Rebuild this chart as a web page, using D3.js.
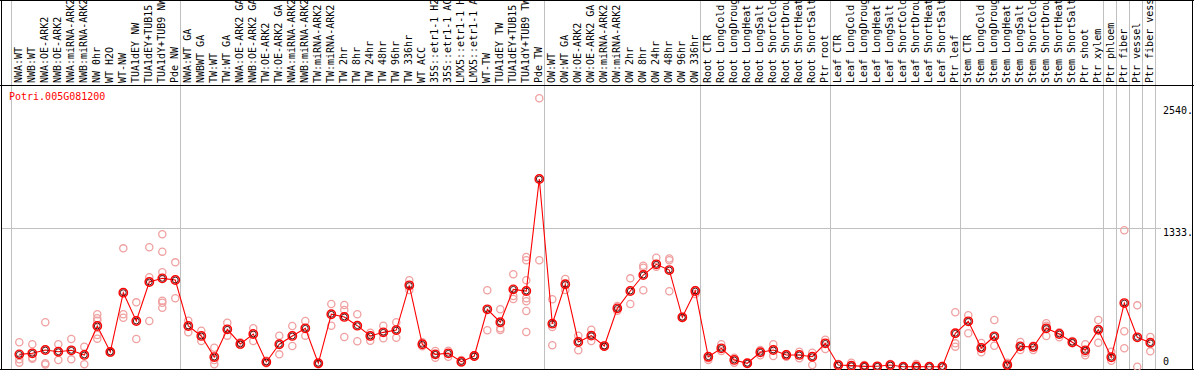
<!DOCTYPE html>
<html><head><meta charset="utf-8">
<script src="https://cdn.jsdelivr.net/npm/d3@7"></script>
<style>
body{margin:0;background:#fff}
svg text{font-family:"DejaVu Sans Mono",monospace;font-size:10px}
</style>
</head><body><svg id="chart" width="1194" height="370"></svg>
<script>
const geneName = "Potri.005G081200";
const categories = [
 "NWA:WT","NWB:WT","NWA:OE-ARK2","NWB:OE-ARK2","NWA:miRNA-ARK2","NWB:miRNA-ARK2","NW 0hr","WT H2O","WT-NW","TUA1dEY NW","TUA1dEY+TUB15 NW","TUA1dY+TUB9 NW","Pde NW",
 "NWA:WT GA","NWBWT GA","TW:WT","TW:WT GA","NWA:OE-ARK2 GA","NWB:OE-ARK2 GA","TW:OE-ARK2","TW:OE-ARK2 GA","NWA:miRNA-ARK2 GA","NWB:miRNA-ARK2 GA","TW:miRNA-ARK2","TW:miRNA-ARK2 GA","TW 2hr","TW 8hr","TW 24hr","TW 48hr","TW 96hr","TW 336hr","WT ACC","35S::etr1-1 H2O","35S::etr1-1 ACC","LMX5::etr1-1 H2O","LMX5::etr1-1 ACC","WT-TW","TUA1dEY TW","TUA1dEY+TUB15 TW","TUA1dY+TUB9 TW","Pde TW",
 "OW:WT","OW:WT GA","OW:OE-ARK2","OW:OE-ARK2 GA","OW:miRNA-ARK2","OW:miRNA-ARK2 GA","OW 2hr","OW 8hr","OW 24hr","OW 48hr","OW 96hr","OW 336hr",
 "Root CTR","Root LongCold","Root LongDrought","Root LongHeat","Root LongSalt","Root ShortCold","Root ShortDrought","Root ShortHeat","Root ShortSalt","Ptr root",
 "Leaf CTR","Leaf LongCold","Leaf LongDrought","Leaf LongHeat","Leaf LongSalt","Leaf ShortCold","Leaf ShortDrought","Leaf ShortHeat","Leaf ShortSalt","Ptr leaf",
 "Stem CTR","Stem LongCold","Stem LongDrought","Stem LongHeat","Stem LongSalt","Stem ShortCold","Stem ShortDrought","Stem ShortHeat","Stem ShortSalt","Ptr shoot","Ptr xylem",
 "Ptr phloem","Ptr fiber","Ptr vessel","Ptr fiber vessel"
];
const groupSizes = [13,28,12,10,10,11,1,1,1,1];
const meanValues = [
 119,129,161,144,158,113,392,142,713,440,816,851,835,
 392,296,93,360,219,315,45,216,296,370,33,505,479,395,296,331,353,784,216,119,129,48,103,553,428,745,729,1808,
 414,794,238,299,199,562,729,883,986,931,476,729,
 96,177,65,33,139,161,113,113,96,225,
 16,10,3,4,16,0,2,0,1,322,
 437,180,293,16,196,190,370,315,235,158,356,
 91,613,283,231
];
const replicateValues = [
 [235,71,39],[216,87,77],[428,33,22],[216,65],[267,71],[193,23],[505,466,443,305,270],[142,135],[1140,505,472],[620,267],[1150,861,440],[1275,1108,909,636,616,568],[1005,659],
 [443,331],[347,248],[183,65,23],[424,299],[235,209],[370,248],[57,33],[299,119],[392,199],[440,299],[33,23],[604,395],[594,546,286],[505,245],[327,250],[395,274],[428,279],[832,739],[235,197],[151,119,87],[154,96],[65,39],[110,96],[736,351],[553,370,353],[890,681,652],[1057,1025,832,659,630,536,334],[2585,1025],
 [649,382,206],[845,739],[299,158],[356,248],[205,193],[585,539],[851,604],[973,953,736],[1050,963],[1042,1025,726],[482,470],[739,700],
 [81,65],[216,151],[87,39],[33,33],[161,110],[216,103],[122,96],[144,81],[135,16],[260,170],
 [26,7],[39,0],[16,0],[7,0],[26,7],[0,0],[26,0],[0,0],[7,0],[524,225,193],
 [495,322],[228,139],[450,202],[39,16],[238,161],[202,161],[418,395,296],[331,283],[248,225],[216,135,110],[450,231],
 [144,58],[1314,341,177],[591,0],[286,148]
];
const yTickValues = [0, 1333, 2540];
const yTickLabels = ["0", "1333.", "2540."];

const svg = d3.select("#chart");
const W = 1194, H = 370;
const plotTop = 85.5, plotBottom = 369.5;

const x = d3.scaleLinear().domain([0, categories.length - 1]).range([19.3, 1150.3]);
const step = x(1) - x(0);
const y = d3.scaleLinear().domain([0, 2666]).range([366.7, 89.9]);

// separators after each group (and one before the first)
const sepIdx = [-1];
let acc = -1;
groupSizes.forEach(s => { acc += s; sepIdx.push(acc); });

const crisp = v => Math.round(v) + 0.5;

svg.append("g").selectAll("line").data(sepIdx).join("line")
  .attr("x1", d => crisp(x(d) + step * 0.38)).attr("x2", d => crisp(x(d) + step * 0.38))
  .attr("y1", 0).attr("y2", plotBottom)
  .attr("stroke", "#c0c0c0").attr("stroke-width", 1);

// horizontal grid at middle value
svg.append("line")
  .attr("x1", 1).attr("x2", 1161)
  .attr("y1", crisp(y(1333))).attr("y2", crisp(y(1333)))
  .attr("stroke", "#c0c0c0");

// frame
const frame = svg.append("g").attr("stroke", "#000").attr("stroke-width", 1);
frame.append("line").attr("x1", 1.5).attr("x2", 1.5).attr("y1", 0).attr("y2", H);
frame.append("line").attr("x1", 1192.5).attr("x2", 1192.5).attr("y1", 0).attr("y2", H);
frame.append("line").attr("x1", 0).attr("x2", W).attr("y1", 0.5).attr("y2", 0.5);
frame.append("line").attr("x1", 0).attr("x2", W).attr("y1", plotTop).attr("y2", plotTop);
frame.append("line").attr("x1", 0).attr("x2", W).attr("y1", plotBottom).attr("y2", plotBottom);

// category labels
svg.append("defs").append("clipPath").attr("id", "lblclip")
  .append("rect").attr("x", 0).attr("y", 1).attr("width", 1192).attr("height", 83.5);
svg.append("g").attr("clip-path", "url(#lblclip)")
  .selectAll("text").data(categories).join("text")
  .attr("transform", (d, i) => `translate(${x(i) + 2.5},83) rotate(-90)`)
  .attr("text-anchor", "start")
  .attr("fill", "#000")
  .text(d => d);

// y tick labels
svg.append("g").selectAll("text").data(yTickValues).join("text")
  .attr("x", 1163)
  .attr("y", (d, i) => i === 0 ? Math.min(y(d) + 8, 365) : y(d) + (i === 1 ? 8 : 11))
  .attr("fill", "#000")
  .text((d, i) => yTickLabels[i]);

// replicates
const reps = [];
replicateValues.forEach((arr, i) => arr.forEach(v => reps.push({i, v})));
svg.append("g").selectAll("circle").data(reps).join("circle")
  .attr("cx", d => x(d.i)).attr("cy", d => y(d.v)).attr("r", 3.6)
  .attr("fill", "none").attr("stroke", "#f0a0a0").attr("stroke-width", 1.3);

// mean line
svg.append("path").datum(meanValues)
  .attr("d", d3.line().x((d, i) => x(i)).y(d => y(d)))
  .attr("fill", "none").attr("stroke", "#ff0000").attr("stroke-width", 1.1);

// mean markers
const mg = svg.append("g").selectAll("g").data(meanValues).join("g")
  .attr("transform", (d, i) => `translate(${x(i)},${y(d)})`);
mg.append("circle").attr("r", 4.2).attr("fill", "none").attr("stroke", "#ff0000").attr("stroke-width", 1.4);
mg.append("circle").attr("r", 2.9).attr("fill", "none").attr("stroke", "#400000").attr("stroke-width", 0.9);

// title
svg.append("text").attr("x", 9).attr("y", 100).attr("fill", "#ff0000").text(geneName);
</script>
</body></html>
